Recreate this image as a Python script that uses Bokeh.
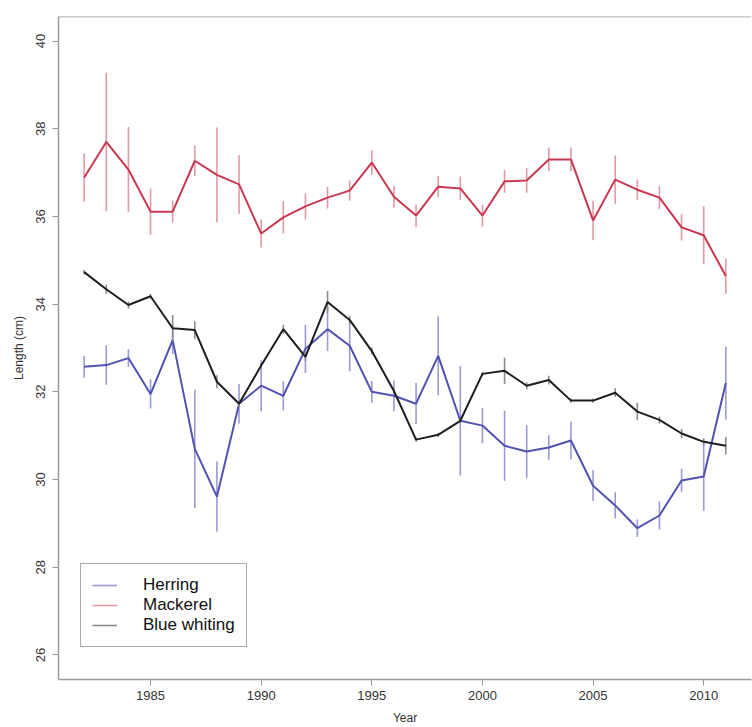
from bokeh.plotting import figure
from bokeh.models import ColumnDataSource, Legend, LegendItem, Span, FixedTicker
from bokeh.embed import file_html
from bokeh.resources import INLINE

years = list(range(1982, 2012))

herring_mean = [32.57, 32.61, 32.77, 31.95, 33.18, 30.70, 29.61, 31.73, 32.14, 31.91,
                32.98, 33.43, 33.05, 32.00, 31.91, 31.73, 32.82, 31.34, 31.23, 30.77,
                30.64, 30.73, 30.89, 29.86, 29.41, 28.89, 29.18, 29.98, 30.07, 32.20]
herring_err = [0.25, 0.45, 0.20, 0.33, 0.32, 1.35, 0.80, 0.45, 0.58, 0.33,
               0.55, 0.50, 0.58, 0.25, 0.35, 0.47, 0.90, 1.25, 0.40, 0.80,
               0.60, 0.28, 0.43, 0.35, 0.30, 0.20, 0.32, 0.26, 0.78, 0.83]

mackerel_mean = [36.89, 37.70, 37.07, 36.11, 36.11, 37.27, 36.95, 36.73, 35.61, 35.98,
                 36.23, 36.43, 36.59, 37.23, 36.45, 36.02, 36.68, 36.64, 36.02, 36.80,
                 36.82, 37.30, 37.30, 35.91, 36.84, 36.61, 36.43, 35.75, 35.57, 34.64]
mackerel_err = [0.55, 1.58, 0.97, 0.53, 0.25, 0.35, 1.08, 0.67, 0.32, 0.37,
                0.30, 0.25, 0.23, 0.28, 0.25, 0.26, 0.24, 0.27, 0.25, 0.26,
                0.28, 0.27, 0.27, 0.45, 0.55, 0.23, 0.26, 0.30, 0.66, 0.40]

bluewhiting_mean = [34.73, 34.34, 33.98, 34.18, 33.45, 33.41, 32.23, 31.73, 32.60, 33.43,
                    32.80, 34.05, 33.64, 32.93, 32.02, 30.91, 31.02, 31.34, 32.41, 32.48,
                    32.14, 32.27, 31.80, 31.80, 31.98, 31.55, 31.36, 31.05, 30.86, 30.77]
bluewhiting_err = [0.05, 0.10, 0.08, 0.05, 0.30, 0.20, 0.15, 0.08, 0.05, 0.10,
                   0.10, 0.25, 0.10, 0.08, 0.05, 0.05, 0.05, 0.05, 0.05, 0.30,
                   0.08, 0.10, 0.05, 0.05, 0.10, 0.20, 0.08, 0.10, 0.08, 0.20]

series_names = ["Herring", "Mackerel", "Blue whiting"]
y_ticks = [26, 28, 30, 32, 34, 36, 38, 40]
x_ticks = [1985, 1990, 1995, 2000, 2005, 2010]

FONT = "Liberation Sans"

p = figure(width=752, height=727, output_backend="svg", toolbar_location=None,
           x_range=(1980.84, 2012.16), y_range=(25.44, 40.56),
           min_border_left=58, min_border_right=1, min_border_top=16, min_border_bottom=47)
p.background_fill_color = "white"
p.border_fill_color = "white"
p.outline_line_color = None
p.grid.grid_line_color = None

for ax in (p.xaxis[0], p.yaxis[0]):
    ax.axis_line_color = "#9a9a9a"
    ax.axis_line_width = 1.5
    ax.major_tick_line_color = "#9a9a9a"
    ax.major_tick_out = 6
    ax.major_tick_in = 0
    ax.minor_tick_line_color = None
    ax.major_label_text_font = FONT
    ax.major_label_text_font_size = "13px"
    ax.major_label_text_color = "#333333"
    ax.axis_label_text_font = FONT
    ax.axis_label_text_font_size = "12px"
    ax.axis_label_text_font_style = "normal"
    ax.axis_label_text_color = "#333333"

p.xaxis.ticker = FixedTicker(ticks=x_ticks)
p.yaxis.ticker = FixedTicker(ticks=y_ticks)
p.xaxis.axis_label = "Year"
p.yaxis.axis_label = "Length (cm)"
p.yaxis.major_label_orientation = "vertical"
p.xaxis.major_label_standoff = 5
p.xaxis.axis_label_standoff = 8
p.yaxis.major_label_standoff = 7
p.yaxis.axis_label_standoff = 8

top = Span(location=40.56, dimension="width", line_color="#9a9a9a", line_width=1.5)
p.add_layout(top)

specs = [
    (herring_mean, herring_err, "#5252b0", "#9a9ad6"),
    (mackerel_mean, mackerel_err, "#c93850", "#e29aa6"),
    (bluewhiting_mean, bluewhiting_err, "#1e1e1e", "#8c8c8c"),
]

err_renderers = []
for mean, err, lc, ec in specs:
    src = ColumnDataSource(dict(
        x=years, y=mean,
        lo=[m - e for m, e in zip(mean, err)],
        hi=[m + e for m, e in zip(mean, err)],
    ))
    er = p.segment(x0="x", y0="lo", x1="x", y1="hi", source=src, line_color=ec, line_width=1.6)
    err_renderers.append(er)
    p.line("x", "y", source=src, line_color=lc, line_width=2)

legend = Legend(items=[LegendItem(label=n, renderers=[r]) for n, r in zip(series_names, err_renderers)],
                location=(22, 32))
legend.label_text_font = FONT
legend.label_text_font_size = "17px"
legend.label_text_color = "#111111"
legend.border_line_color = "#555555"
legend.border_line_width = 1.2
legend.background_fill_alpha = 1
legend.padding = 11
legend.spacing = 0
legend.glyph_width = 25
legend.glyph_height = 20
legend.label_height = 20
legend.label_standoff = 26
legend.margin = 0
p.add_layout(legend, "center")

open("out.html", "w").write(file_html(p, INLINE))
